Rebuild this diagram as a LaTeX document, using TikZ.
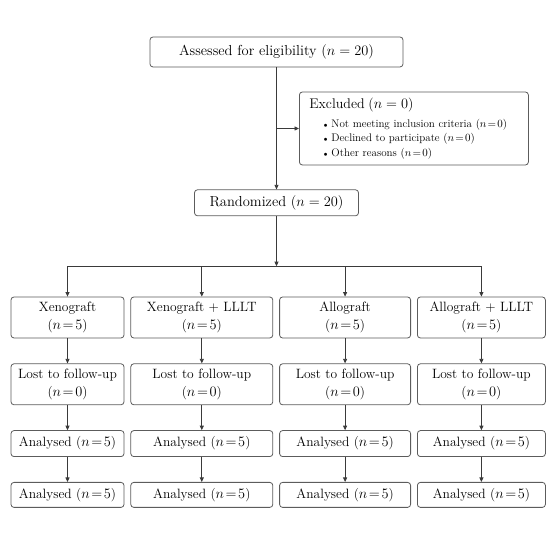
\documentclass[tikz,border=0pt]{standalone}
\usepackage{tikz}
\usetikzlibrary{arrows.meta,positioning}
\definecolor{boxline}{HTML}{5C5C5C}
\definecolor{linegray}{HTML}{3A3A3A}
\tikzset{
  blk/.style={draw=boxline, rounded corners=3pt, line width=.8pt, fill=white, align=center, inner sep=2pt, font=\fontsize{13.5}{18}\selectfont},
  blkt/.style={blk, font=\fontsize{14.5}{18}\selectfont},
  ar/.style={-{Triangle[length=4.5pt,width=4pt]}, line width=.8pt, draw=linegray},
}
\newcommand{\nn}[1]{($n\mkern2mu{=}\mkern2mu#1$)}
\newcommand{\itm}{\hspace*{1.3em}{\scriptsize$\bullet$}\ }
\begin{document}
\begin{tikzpicture}[x=1pt,y=1pt,node distance=25pt and 6pt]
  \useasboundingbox (0,0) rectangle (550,537);
  \node[blkt, minimum width=253pt, minimum height=30pt] (elig) at (276.5,485) {Assessed for eligibility ($n = 20$)};
  \node[blkt, below=122pt of elig, minimum width=164pt, minimum height=26pt] (rand) {Randomized ($n = 20$)};
  \node[blk, anchor=west, align=left, inner xsep=10pt, text width=209pt, minimum height=73pt,
        font=\fontsize{11}{14.5}\selectfont] (excl) at (299,408.5)
    {{\fontsize{14}{14.5}\selectfont Excluded ($n = 0$)}\\[4pt]
     \itm Not meeting inclusion criteria \nn{0}\\
     \itm Declined to participate \nn{0}\\
     \itm Other reasons \nn{0}};
  % groups
  \node[blk, minimum width=113pt, minimum height=41pt] (g1) at (67.5,219.5) {Xenograft\\\nn{5}};
  \node[blk, right=of g1, minimum width=142pt, minimum height=41pt] (g2) {Xenograft + LLLT\\\nn{5}};
  \node[blk, right=of g2, minimum width=131pt, minimum height=41pt] (g3) {Allograft\\\nn{5}};
  \node[blk, right=of g3, minimum width=128pt, minimum height=41pt] (g4) {Allograft + LLLT\\\nn{5}};
  % lost to follow-up
  \node[blk, below=of g1, minimum width=113pt, minimum height=41pt] (l1) {Lost to follow-up\\\nn{0}};
  \node[blk, below=of g2, minimum width=142pt, minimum height=41pt] (l2) {Lost to follow-up\\\nn{0}};
  \node[blk, below=of g3, minimum width=131pt, minimum height=41pt] (l3) {Lost to follow-up\\\nn{0}};
  \node[blk, below=of g4, minimum width=128pt, minimum height=41pt] (l4) {Lost to follow-up\\\nn{0}};
  % analysed
  \node[blk, below=of l1, minimum width=113pt, minimum height=26pt] (a1) {Analysed \nn{5}};
  \node[blk, below=of l2, minimum width=142pt, minimum height=26pt] (a2) {Analysed \nn{5}};
  \node[blk, below=of l3, minimum width=131pt, minimum height=26pt] (a3) {Analysed \nn{5}};
  \node[blk, below=of l4, minimum width=128pt, minimum height=26pt] (a4) {Analysed \nn{5}};
  \node[blk, below=of a1, minimum width=113pt, minimum height=25pt] (b1) {Analysed \nn{5}};
  \node[blk, below=of a2, minimum width=142pt, minimum height=25pt] (b2) {Analysed \nn{5}};
  \node[blk, below=of a3, minimum width=131pt, minimum height=25pt] (b3) {Analysed \nn{5}};
  \node[blk, below=of a4, minimum width=128pt, minimum height=25pt] (b4) {Analysed \nn{5}};
  \coordinate[below=50pt of rand.south] (branch);
  \coordinate (split) at (elig.south |- excl.west);
  \draw[ar] (elig) -- (rand); \draw[ar] (split) -- (excl.west);
  \draw[ar] (rand) -- (branch);
  \draw[ar] (branch) -| (g1); \draw[ar] (branch) -| (g2); \draw[ar] (branch) -| (g3); \draw[ar] (branch) -| (g4);
  \draw[ar] (g1)--(l1); \draw[ar] (g2)--(l2); \draw[ar] (g3)--(l3); \draw[ar] (g4)--(l4);
  \draw[ar] (l1)--(a1); \draw[ar] (l2)--(a2); \draw[ar] (l3)--(a3); \draw[ar] (l4)--(a4);
  \draw[ar] (a1)--(b1); \draw[ar] (a2)--(b2); \draw[ar] (a3)--(b3); \draw[ar] (a4)--(b4);
\end{tikzpicture}
\end{document}
